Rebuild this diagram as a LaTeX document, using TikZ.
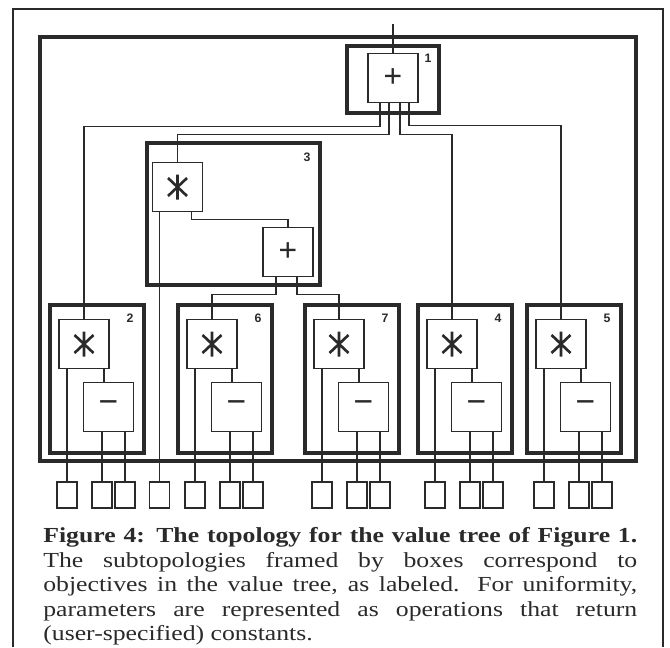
\documentclass[tikz,border=0pt]{standalone}
\usepackage{fontspec}
\setmainfont{Liberation Serif}
\setsansfont{Liberation Sans}
\newfontfamily\capfont{Liberation Serif}[FakeStretch=1.2]
\usetikzlibrary{positioning}
\definecolor{ScanInk}{HTML}{2A2A2A}

\begin{document}
\begin{tikzpicture}[x=0.02cm,y=-0.02cm,
 wire/.style={draw=ScanInk,line width=1.1pt},
 topo/.style={draw=ScanInk,line width=2.6pt,inner sep=0pt},
 opbox/.style={draw=ScanInk,line width=1.1pt,fill=white,inner sep=0pt,
  minimum width=1cm,minimum height=0.98cm,text=ScanInk},
 addop/.style={opbox,font=\bfseries\fontsize{19}{19}\selectfont},
 subop/.style={opbox,font=\bfseries\fontsize{20}{20}\selectfont},
 mulop/.style={opbox,path picture={\draw[ScanInk,line width=1.5pt,
  shift={(path picture bounding box.center)}] (0,-12.5) -- (0,12.5)
  (-9.5,-9) -- (9.5,9) (-9.5,9) -- (9.5,-9);}},
 parm/.style={draw=ScanInk,line width=1pt,inner sep=0pt,
  minimum width=0.4cm,minimum height=0.52cm},
 tag/.style={font=\sffamily\bfseries\fontsize{7}{8}\selectfont,text=ScanInk}]
\useasboundingbox (0,0) rectangle (670,647);
% page frame, open at the bottom
\draw[ScanInk,line width=1.1pt] (13,647) |- (663,9) -- (663,647);
% whole topology and the subtopologies
\node[topo,minimum width=11.92cm,minimum height=8.48cm] (whole) at (338,249) {};
\node[topo,minimum width=1.84cm,minimum height=1.34cm] (t1) at (393,79.5) {};
\node[topo,minimum width=3.46cm,minimum height=2.84cm] (t3) at (233.5,214) {};
\node[tag] (lab1) at (428,58) {1};
\node[tag] (lab3) at (307,157) {3};
\node[addop] (add1) at (393,78) {+};
\node[mulop] (mul3) at (177.5,187) {};
\node[addop] (add3) at (288,252) {+};
\node[parm] (pd) at (159.5,495) {};
\foreach \n/\L in {2/50,6/178,7/305,4/418,5/527}{
 \node[topo,minimum width=1.88cm,minimum height=2.96cm] (t\n) at (\L+47,379) {};
 \node[tag] (lab\n) at (\L+80,318) {\n};
 \node[mulop] (mul\n) at (\L+34,344) {};
 \node[subop] (sub\n) at (\L+58.5,407) {−};
 \node[parm] (pa\n) at (\L+17,495) {};
 \node[parm] (pb\n) at (\L+52,495) {};
 \node[parm] (pc\n) at (\L+75,495) {};
 \draw[wire] (pa\n.north) -- (pa\n.north |- mul\n.south);
 \draw[wire] ([xshift=0.4cm]mul\n.south) -- ([xshift=0.4cm]mul\n.south |- sub\n.north);
 \draw[wire] (pb\n.north) -- (pb\n.north |- sub\n.south);
 \draw[wire] (pc\n.north) -- (pc\n.north |- sub\n.south);
}
% root operation and its branches
\coordinate (in1) at (393,24);
\draw[wire] (in1) -- (add1.north);
\draw[wire] ([xshift=-0.26cm]add1.south) -- ++(0,23) -| (mul2.north);
\draw[wire] ([xshift=-0.08cm]add1.south) -- ++(0,31) -| (mul3.north);
\draw[wire] ([xshift=0.14cm]add1.south) -- ++(0,31) -| (mul4.north);
\draw[wire] ([xshift=0.32cm]add1.south) -- ++(0,22) -| (mul5.north);
% inside 3
\draw[wire] ([xshift=0.28cm]mul3.south) -- ++(0,7) -| (add3.north);
\draw[wire] (pd.north) -- (pd.north |- mul3.south);
\draw[wire] ([xshift=-0.24cm]add3.south) -- ++(0,17) -| (mul6.north);
\draw[wire] ([xshift=0.18cm]add3.south) -- ++(0,17) -| (mul7.north);
% caption
\node[anchor=north west,text width=11.88cm,align=justify,inner sep=0pt,
 text=ScanInk] (caption) at (43,527)
 {\capfont\fontsize{12.2}{14}\selectfont
 {\bfseries Figure 4: The topology for the value tree of Figure 1.}\linebreak
 The subtopologies framed by boxes correspond to\linebreak
 objectives in the value tree, as labeled. For uniformity,\linebreak
 parameters are represented as operations that return\linebreak
 (user-specified) constants.\par};
\end{tikzpicture}
\end{document}
